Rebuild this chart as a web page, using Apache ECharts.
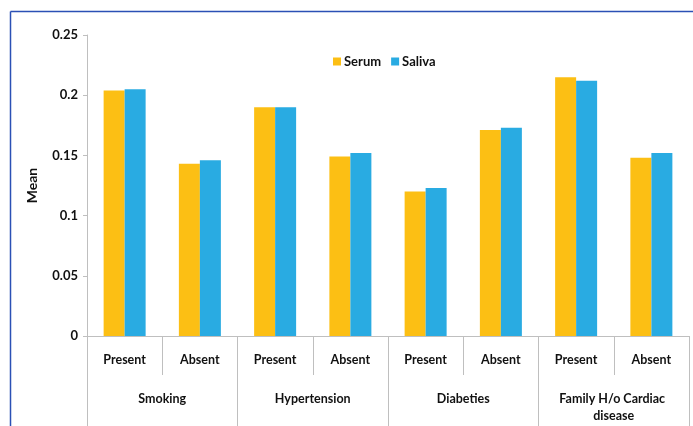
<!DOCTYPE html>
<html>
<head>
<meta charset="utf-8">
<script src="https://cdn.jsdelivr.net/npm/echarts@6/dist/echarts.min.js"></script>
<style>
  html, body { margin: 0; padding: 0; background: #fff; overflow: hidden; }
  #chart { position: absolute; left: 0; top: 0; width: 693px; height: 426px; }
</style>
</head>
<body>
<div id="chart"></div>
<script>
// Sub-categories (one per bar pair) and their parent groups
const subCategories = ['Present', 'Absent', 'Present', 'Absent', 'Present', 'Absent', 'Present', 'Absent'];
const groups = ['Smoking', 'Hypertension', 'Diabeties', 'Family H/o Cardiac disease'];

// Mean values per sub-category
const serum  = [0.204, 0.143, 0.190, 0.149, 0.120, 0.171, 0.215, 0.148];
const saliva = [0.205, 0.146, 0.190, 0.152, 0.123, 0.173, 0.212, 0.152];

const yTicks = { min: 0, max: 0.25, step: 0.05 };

const FONT = 'Lato';
const AXIS_GREY = '#bfbfbf';
const labelStyle = { fontFamily: FONT, fontWeight: 'bold', fontSize: 12.5, color: '#111111' };

const chart = echarts.init(document.getElementById('chart'), null, { renderer: 'canvas' });

chart.setOption({
  animation: false,
  backgroundColor: '#ffffff',
  // frame: left and top edges only
  graphic: [
    { type: 'line', shape: { x1: 10.5, y1: 11.5, x2: 10.5, y2: 426 },
      style: { stroke: '#2b50b5', lineWidth: 1.5 }, z: 101, silent: true },
    { type: 'line', shape: { x1: 10.5, y1: 11.5, x2: 693, y2: 11.5 },
      style: { stroke: '#2b50b5', lineWidth: 1.5 }, z: 101, silent: true }
  ],
  legend: {
    data: ['Serum', 'Saliva'],
    left: 328,
    top: 50,
    icon: 'rect',
    itemWidth: 8,
    itemHeight: 8,
    itemGap: 10,
    textStyle: Object.assign({}, labelStyle, { fontSize: 13, padding: [0, 0, 0, -2] })
  },
  grid: { left: 87, right: 4, top: 35, bottom: 90, containLabel: false },
  xAxis: [
    {
      type: 'category',
      data: subCategories,
      position: 'bottom',
      axisLine: { show: true, lineStyle: { color: AXIS_GREY, width: 1 } },
      axisTick: { show: true, interval: 0, length: 39, lineStyle: { color: AXIS_GREY } },
      axisLabel: Object.assign({ interval: 0, margin: 15, lineHeight: 17 }, labelStyle)
    },
    {
      type: 'category',
      data: groups,
      position: 'bottom',
      axisLine: { show: false },
      axisTick: { show: true, interval: 0, length: 92, lineStyle: { color: AXIS_GREY } },
      axisLabel: Object.assign({
        interval: 0, margin: 54, lineHeight: 17,
        width: 130, overflow: 'break', align: 'center'
      }, labelStyle)
    }
  ],
  yAxis: {
    type: 'value',
    min: yTicks.min,
    max: yTicks.max,
    interval: yTicks.step,
    name: 'Mean',
    nameLocation: 'middle',
    nameRotate: 90,
    nameGap: 48,
    nameTextStyle: Object.assign({}, labelStyle, { fontSize: 14 }),
    axisLine: { show: true, lineStyle: { color: AXIS_GREY } },
    axisTick: { show: true, length: 4, lineStyle: { color: AXIS_GREY } },
    axisLabel: Object.assign({ margin: 9 }, labelStyle, { fontSize: 13 }),
    splitLine: { show: false }
  },
  series: [
    {
      name: 'Serum',
      type: 'bar',
      data: serum,
      barWidth: 21,
      barGap: '0%',
      itemStyle: { color: '#fcbf14' }
    },
    {
      name: 'Saliva',
      type: 'bar',
      data: saliva,
      barWidth: 21,
      barGap: '0%',
      itemStyle: { color: '#29abe2' }
    }
  ]
});
</script>
</body>
</html>
